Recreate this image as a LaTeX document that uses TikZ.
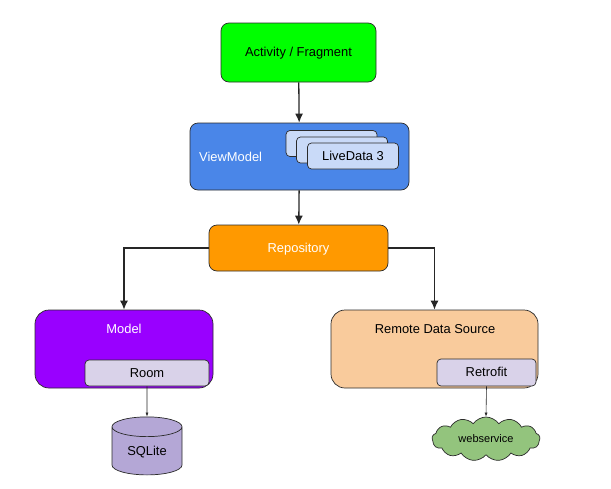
\documentclass[tikz,border=0pt]{standalone}
\usepackage{fontspec}
\setmainfont{Liberation Sans}
\usetikzlibrary{arrows.meta,shapes}
\definecolor{activitygreen}{HTML}{00FF00}
\definecolor{viewblue}{HTML}{4A86E8}
\definecolor{livedatablue}{HTML}{C9DAF8}
\definecolor{repoorange}{HTML}{FF9900}
\definecolor{modelpurple}{HTML}{9900FF}
\definecolor{remotepeach}{HTML}{F9CB9C}
\definecolor{innerlilac}{HTML}{D9D2E9}
\definecolor{sqlitelilac}{HTML}{B4A7D6}
\definecolor{cloudgreen}{HTML}{93C47D}
\definecolor{borderdark}{HTML}{2B2B2B}
\tikzstyle{label text}=[font=\fontsize{12.9}{15}\selectfont,text height=8.5pt,text depth=0pt]
\tikzstyle{box}=[draw=borderdark,line width=0.7pt,rectangle,rounded corners=8pt,inner sep=0pt,label text]
\tikzstyle{bigbox}=[box,rounded corners=14pt]
\tikzstyle{smallbox}=[box,rounded corners=4pt]
\tikzstyle{caption}=[inner sep=0pt,label text]
\tikzstyle{edge}=[draw,line width=1.3pt,-{Latex[length=9pt,width=8pt]},color=black!85]
\tikzstyle{thinedge}=[draw,line width=0.6pt,-{Latex[length=4pt,width=3pt]},color=black!85]
\begin{document}
\begin{tikzpicture}[x=1pt,y=-1pt]
    \useasboundingbox (0,0) rectangle (611,488);
    % First we draw the boxes
    \node[box,fill=activitygreen,minimum width=155pt,minimum height=59pt] (activity) at (298.5,52.5) {Activity / Fragment};
    \node[box,fill=viewblue,minimum width=219pt,minimum height=67pt] (viewmodel) at (299.5,156.5) {};
    \node[caption,text=white,anchor=west] (viewmodellabel) at (199,157) {ViewModel};
    \foreach \pos/\name/\txt in {{(331.5,143.5)/live1/}, {(342,150)/live2/}, {(353,156)/live3/LiveData 3}}
        \node[smallbox,fill=livedatablue,minimum width=91pt,minimum height=26pt] (\name) at \pos {\txt};
    \node[box,fill=repoorange,text=white,minimum width=179pt,minimum height=46pt] (repository) at (298.5,248) {Repository};
    \node[bigbox,fill=modelpurple,minimum width=178pt,minimum height=78pt] (model) at (124,349) {};
    \node[caption,text=white] (modellabel) at (124,329) {Model};
    \node[bigbox,fill=remotepeach,minimum width=207pt,minimum height=78pt] (remote) at (434.5,349) {};
    \node[caption] (remotelabel) at (435,329) {Remote Data Source};
    \node[smallbox,fill=innerlilac,minimum width=124pt,minimum height=26pt] (room) at (147,373) {Room};
    \node[smallbox,fill=innerlilac,minimum width=99pt,minimum height=27pt] (retrofit) at (486.5,372.5) {Retrofit};
    \node[draw=borderdark,line width=0.7pt,fill=sqlitelilac,cylinder,shape border rotate=90,aspect=0.5,minimum width=70pt,minimum height=58pt,inner sep=0pt,label text] (sqlite) at (147,451) {SQLite};
    \node[draw=borderdark,line width=0.7pt,fill=cloudgreen,cloud,cloud puffs=13,cloud puff arc=110,aspect=2.4,minimum width=108pt,minimum height=44pt,inner sep=0pt,font=\fontsize{11}{13}\selectfont] (cloud) at (486,439) {webservice};
    % Connect boxes with arrows
    \foreach \source/\dest in {activity/viewmodel, viewmodel/repository}
        \path[edge] (\source) -- (\dest);
    \path[edge] (repository.west) -| (model.north);
    \path[edge] (repository.east) -| (remote.north);
    \path[thinedge] (room.south) -- (sqlite.north);
    \path[thinedge] (retrofit.south) -- (cloud.north);
\end{tikzpicture}
\end{document}
